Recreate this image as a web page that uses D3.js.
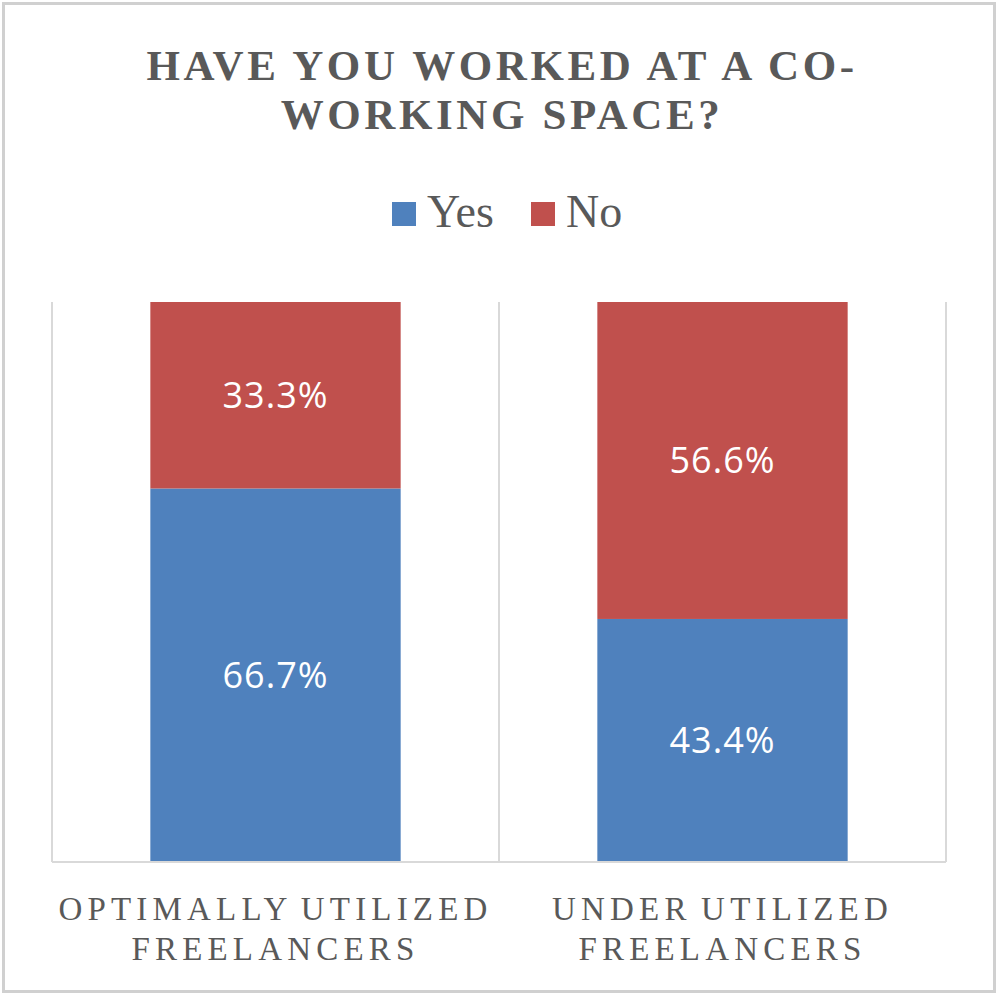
<!DOCTYPE html>
<html>
<head>
<meta charset="utf-8">
<script src="https://cdn.jsdelivr.net/npm/d3@7"></script>
<style>
  html, body { margin: 0; padding: 0; background: #fff; }
  svg { display: block; }
</style>
</head>
<body>
<div id="chart"></div>
<script>
// chart data
const categories = [["OPTIMALLY UTILIZED", "FREELANCERS"], ["UNDER UTILIZED", "FREELANCERS"]];
const seriesNames = ["Yes", "No"];
const yesValues = [66.7, 43.4];
const noValues = [33.3, 56.6];
const titleLines = ["HAVE YOU WORKED AT A CO-", "WORKING SPACE?"];

const colors = { Yes: "#4F81BD", No: "#C0504D" };

const dimension = {
    width: 999,
    height: 995,
    margin: { top: 302, left: 52, bottom: 133, right: 53 }
};
dimension.boundedWidth = dimension.width - dimension.margin.left - dimension.margin.right;
dimension.boundedHeight = dimension.height - dimension.margin.top - dimension.margin.bottom;

const svg = d3.select("#chart")
    .append("svg")
    .attr("width", dimension.width)
    .attr("height", dimension.height);

// outer frame
svg.append("rect")
    .attr("x", 3.5).attr("y", 3.5)
    .attr("width", 991).attr("height", 988)
    .attr("fill", "#fff")
    .attr("stroke", "#d0d0d0")
    .attr("stroke-width", 3);

// title
svg.append("text")
    .attr("text-anchor", "middle")
    .attr("font-family", "'Liberation Serif', serif")
    .attr("font-weight", "bold")
    .attr("font-size", 43)
    .attr("letter-spacing", 3.6)
    .attr("fill", "#595959")
    .selectAll("tspan")
    .data(titleLines)
    .join("tspan")
    .attr("x", 500 + 2)
    .attr("y", (d, i) => 80 + i * 49)
    .text(d => d);

// legend
const legend = svg.append("g")
    .attr("font-family", "'Liberation Serif', serif")
    .attr("font-size", 46)
    .attr("fill", "#595959");
const legendX = [392, 531];
seriesNames.forEach((name, i) => {
    legend.append("rect")
        .attr("x", legendX[i]).attr("y", 202)
        .attr("width", 24).attr("height", 24)
        .attr("fill", colors[name]);
    legend.append("text")
        .attr("x", legendX[i] + 35)
        .attr("y", 227)
        .text(name);
});

const bounds = svg.append("g")
    .attr("transform", `translate(${dimension.margin.left},${dimension.margin.top})`);

const xScaler = d3.scaleBand()
    .domain(d3.range(categories.length))
    .range([0, dimension.boundedWidth])
    .padding(0);

const yScaler = d3.scaleLinear()
    .domain([0, 100])
    .range([dimension.boundedHeight, 0]);

// vertical category separators
const gridX = d3.range(categories.length + 1).map(i => i * xScaler.step());
bounds.append("g")
    .selectAll("line")
    .data(gridX)
    .join("line")
    .attr("x1", d => d).attr("x2", d => d)
    .attr("y1", 0).attr("y2", dimension.boundedHeight)
    .attr("stroke", "#d9d9d9")
    .attr("stroke-width", 2);

// stacked data
const rows = categories.map((c, i) => ({ Yes: yesValues[i], No: noValues[i], idx: i }));
const stack = d3.stack().keys(seriesNames)(rows);

const barWidth = xScaler.bandwidth() * 0.56;
const barOffset = (xScaler.bandwidth() - barWidth) / 2;

const layers = bounds.append("g")
    .selectAll("g")
    .data(stack)
    .join("g")
    .attr("fill", d => colors[d.key]);

layers.selectAll("rect")
    .data(d => d)
    .join("rect")
    .attr("x", d => xScaler(d.data.idx) + barOffset)
    .attr("y", d => yScaler(d[1]))
    .attr("width", barWidth)
    .attr("height", d => yScaler(d[0]) - yScaler(d[1]));

// data labels
layers.selectAll("text")
    .data(d => d.map(v => ({ v, key: d.key })))
    .join("text")
    .attr("x", d => xScaler(d.v.data.idx) + xScaler.bandwidth() / 2)
    .attr("y", d => (yScaler(d.v[0]) + yScaler(d.v[1])) / 2)
    .attr("dy", "0.36em")
    .attr("text-anchor", "middle")
    .attr("font-family", "'Open Sans', sans-serif")
    .attr("font-size", 36)
    .attr("letter-spacing", 1)
    .attr("fill", "#fff")
    .text(d => d.v.data[d.key].toFixed(1) + "%");

// bottom axis line
bounds.append("line")
    .attr("x1", 0).attr("x2", dimension.boundedWidth)
    .attr("y1", dimension.boundedHeight).attr("y2", dimension.boundedHeight)
    .attr("stroke", "#d9d9d9")
    .attr("stroke-width", 2);

// category labels
bounds.append("g")
    .selectAll("text")
    .data(categories)
    .join("text")
    .attr("text-anchor", "middle")
    .attr("font-family", "'Liberation Serif', serif")
    .attr("font-size", 33)
    .attr("letter-spacing", 5.2)
    .attr("word-spacing", -4)
    .attr("fill", "#595959")
    .each(function (lines, i) {
        d3.select(this).selectAll("tspan")
            .data(lines)
            .join("tspan")
            .attr("x", xScaler(i) + xScaler.bandwidth() / 2)
            .attr("y", (d, j) => dimension.boundedHeight + 58 + j * 40)
            .text(d => d);
    });
</script>
</body>
</html>
